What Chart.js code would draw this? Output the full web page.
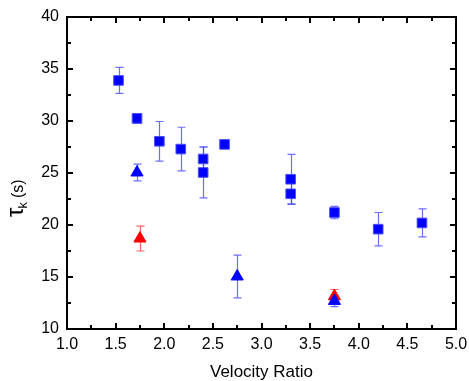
<!DOCTYPE html>
<html>
<head>
<meta charset="utf-8">
<script src="https://cdn.jsdelivr.net/npm/chart.js@4.4.1/dist/chart.umd.min.js"></script>
<style>
  html, body { margin: 0; padding: 0; background: #fff; }
  #wrap { width: 469px; height: 381px; }
</style>
</head>
<body>
<div id="wrap"><canvas id="chart1"></canvas></div>
<script>
// blue squares
const sqX   = [1.53, 1.72, 1.95, 2.17, 2.40, 2.40, 2.62, 3.30, 3.30, 3.75, 4.20, 4.65];
const sqY   = [33.9, 30.25, 28.05, 27.3, 26.35, 25.05, 27.75, 24.4, 23.0, 21.2, 19.6, 20.2];
const sqErr = [1.25, 0.45, 1.9, 2.1, 1.15, 2.45, 0, 2.4, 1.0, 0.6, 1.6, 1.35];
// blue triangles
const btX   = [1.72, 2.75, 3.75];
const btY   = [25.05, 15.05, 12.7];
const btErr = [0.8, 2.05, 0.55];
// red triangles
const rtX   = [1.75, 3.75];
const rtY   = [18.7, 13.15];
const rtErr = [1.2, 0.65];

const xTicks = [1.0, 1.5, 2.0, 2.5, 3.0, 3.5, 4.0, 4.5, 5.0];
const yTicks = [10, 15, 20, 25, 30, 35, 40];

function pts(xs, ys, es) {
  return xs.map((x, i) => ({x: x, y: ys[i], err: es[i]}));
}

const font = 'Liberation Sans, Arial, sans-serif';

// error bars drawn under the markers
const errorBars = {
  id: 'errorBars',
  beforeDatasetsDraw(chart) {
    const ctx = chart.ctx, xs = chart.scales.x, ys = chart.scales.y;
    ctx.save();
    chart.data.datasets.forEach(ds => {
      ctx.strokeStyle = ds.errColor;
      ctx.lineWidth = 1.2;
      ds.data.forEach(p => {
        if (!p.err) return;
        const px = Math.round(xs.getPixelForValue(p.x)) + 0.5;
        const top = ys.getPixelForValue(p.y + p.err);
        const bot = ys.getPixelForValue(p.y - p.err);
        ctx.beginPath();
        ctx.moveTo(px, top); ctx.lineTo(px, bot);
        ctx.moveTo(px - 4, top); ctx.lineTo(px + 4, top);
        ctx.moveTo(px - 4, bot); ctx.lineTo(px + 4, bot);
        ctx.stroke();
      });
    });
    ctx.restore();
  }
};

// box frame with inward ticks on all sides, and the y title
const frame = {
  id: 'frame',
  afterDraw(chart) {
    const ctx = chart.ctx, a = chart.chartArea;
    const xs = chart.scales.x, ys = chart.scales.y;
    ctx.save();
    ctx.strokeStyle = '#000';
    ctx.lineWidth = 2;
    ctx.strokeRect(a.left, a.top, a.right - a.left, a.bottom - a.top);
    ctx.beginPath();
    for (let v = 1.0; v <= 5.0001; v += 0.25) {
      const px = Math.round(xs.getPixelForValue(v));
      const len = Math.abs(v * 2 - Math.round(v * 2)) < 1e-6 ? 6 : 4;
      ctx.moveTo(px, a.bottom); ctx.lineTo(px, a.bottom - len);
      ctx.moveTo(px, a.top); ctx.lineTo(px, a.top + len);
    }
    for (let v = 10; v <= 40.001; v += 2.5) {
      const py = Math.round(ys.getPixelForValue(v));
      const len = v % 5 === 0 ? 6 : 4;
      ctx.moveTo(a.left, py); ctx.lineTo(a.left + len, py);
      ctx.moveTo(a.right, py); ctx.lineTo(a.right - len, py);
    }
    ctx.stroke();

    // y title: tau_k (s), rotated
    ctx.translate(23, 217);
    ctx.rotate(-Math.PI / 2);
    ctx.fillStyle = '#000';
    ctx.textBaseline = 'alphabetic';
    ctx.textAlign = 'left';
    ctx.font = '24px ' + font;
    ctx.fillText('τ', 0, 0);
    let w = ctx.measureText('τ').width;
    ctx.font = '13px ' + font;
    ctx.fillText('k', w - 1, 4);
    w += ctx.measureText('k').width + 3;
    ctx.font = '16px ' + font;
    ctx.fillText('(s)', w, 0);
    ctx.restore();
  }
};

new Chart(document.getElementById('chart1'), {
  type: 'scatter',
  data: {
    datasets: [{
      label: 'squares',
      data: pts(sqX, sqY, sqErr),
      pointStyle: 'rect',
      pointRadius: 6.8,
      backgroundColor: '#0000ff',
      borderColor: '#4d4dff',
      borderWidth: 1,
      errColor: 'rgba(60,60,255,0.75)'
    }, {
      label: 'blue triangles',
      data: pts(btX, btY, btErr),
      pointStyle: 'triangle',
      pointRadius: 7,
      backgroundColor: '#0000ff',
      borderColor: '#0000ff',
      borderWidth: 1,
      errColor: 'rgba(60,60,255,0.75)'
    }, {
      label: 'red triangles',
      data: pts(rtX, rtY, rtErr),
      pointStyle: 'triangle',
      pointRadius: 7,
      backgroundColor: '#ff0000',
      borderColor: '#ff0000',
      borderWidth: 1,
      errColor: 'rgba(255,60,60,0.8)'
    }]
  },
  options: {
    responsive: true,
    maintainAspectRatio: false,
    animation: false,
    layout: { padding: { top: 17, right: 13, left: 0, bottom: 0 } },
    plugins: { legend: { display: false }, tooltip: { enabled: false } },
    scales: {
      x: {
        type: 'linear',
        min: 1, max: 5,
        afterBuildTicks: s => { s.ticks = xTicks.map(v => ({value: v})); },
        afterFit: s => { s.height = 52; s.paddingLeft = 0; s.paddingRight = 0; },
        grid: { display: false, drawTicks: false },
        border: { display: false },
        ticks: {
          padding: 6,
          color: '#000',
          font: { family: font, size: 16 },
          maxRotation: 0,
          callback: v => v.toFixed(1)
        },
        title: {
          display: true,
          text: 'Velocity Ratio',
          color: '#000',
          font: { family: font, size: 17 },
          padding: { top: 0, bottom: -2 }
        }
      },
      y: {
        type: 'linear',
        min: 10, max: 40,
        afterBuildTicks: s => { s.ticks = yTicks.map(v => ({value: v})); },
        afterFit: s => { s.width = 67; s.paddingTop = 0; s.paddingBottom = 0; },
        grid: { display: false, drawTicks: false },
        border: { display: false },
        ticks: {
          padding: 8,
          color: '#000',
          font: { family: font, size: 16 }
        }
      }
    }
  },
  plugins: [errorBars, frame]
});
</script>
</body>
</html>
